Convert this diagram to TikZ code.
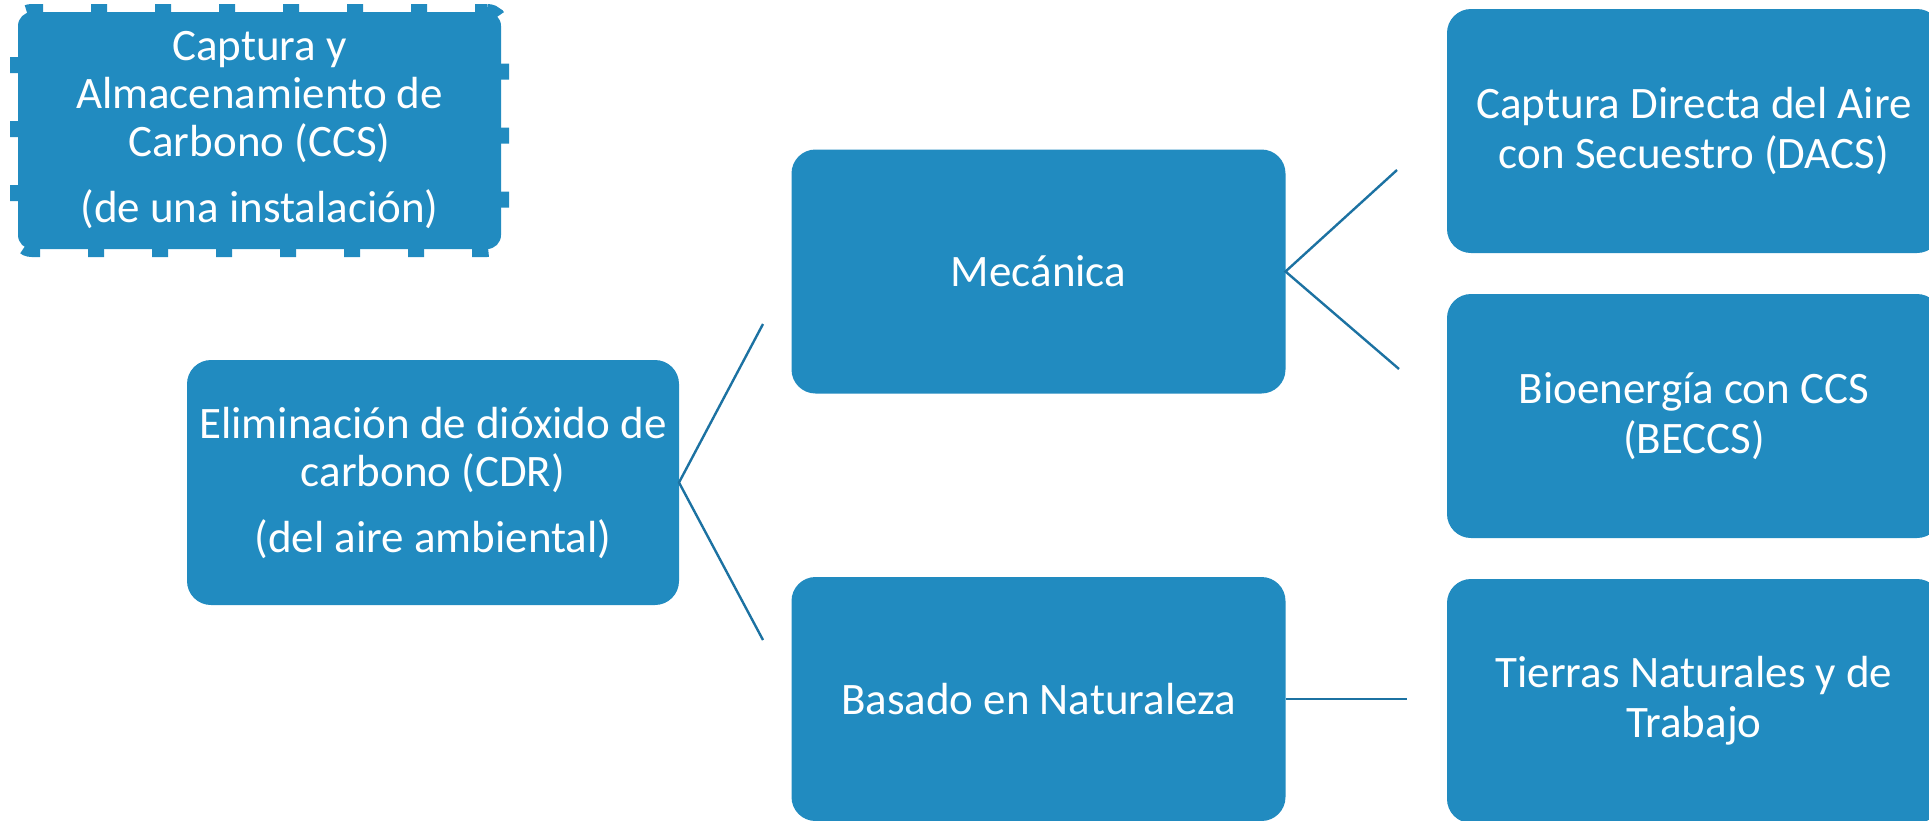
\documentclass[tikz,border=0pt]{standalone}
\usepackage{fontspec}
\setmainfont{Carlito}
\definecolor{cajaazul}{RGB}{33,139,192}
\definecolor{lineaazul}{RGB}{28,114,162}
\begin{document}
\begin{tikzpicture}[x=1pt, y=-1pt,
  caja/.style={fill=cajaazul, text=white, align=center, inner sep=0pt, outer sep=0pt,
    minimum width=494pt, minimum height=244pt, rounded corners=24pt,
    font={\fontsize{45}{48}\selectfont}},
  cajader/.style={caja, font={\fontsize{45}{50}\selectfont}},
  cajapunteada/.style={caja, minimum width=483pt, minimum height=237pt, rounded corners=14pt,
    draw=cajaazul, line width=16pt, dash pattern=on 16pt off 48pt, dash phase=4pt},
  enlace/.style={draw=lineaazul, line width=2.4pt}]
  \useasboundingbox (0,0) rectangle (1929,820);
  \clip (0,0) rectangle (1929,820);

  % 1. Cajas
  \node[cajapunteada] (ccs) at (259.5,130.5) {Captura y\\Almacenamiento de\\Carbono (CCS)\\[18pt](de una instalación)};
  \node[caja, minimum width=492pt, minimum height=245pt] (cdr) at (433,482.5) {Eliminación de dióxido de\\carbono (CDR)\\[18pt](del aire ambiental)};
  \node[caja] (mec) at (1038.5,271.5) {Mecánica};
  \node[caja] (nat) at (1038.5,699) {Basado en Naturaleza};
  \node[cajader] (dacs) at (1694,131) {Captura Directa del Aire\\con Secuestro (DACS)};
  \node[cajader] (beccs) at (1694,416) {Bioenergía con CCS\\(BECCS)};
  \node[cajader] (tierras) at (1694,701) {Tierras Naturales y de\\Trabajo};

  % 2. Extremos libres de las ramas
  \coordinate (cdr-a) at (763,324);
  \coordinate (cdr-b) at (763,640);
  \coordinate (mec-a) at (1397,170);
  \coordinate (mec-b) at (1399,369);
  \coordinate (nat-a) at (1407,699);

  % 3. Ramas
  \draw[enlace] (cdr-a) -- (cdr.east) -- (cdr-b);
  \draw[enlace] (mec-a) -- (mec.east) -- (mec-b);
  \draw[enlace] (nat.east) -- (nat-a);
\end{tikzpicture}
\end{document}
